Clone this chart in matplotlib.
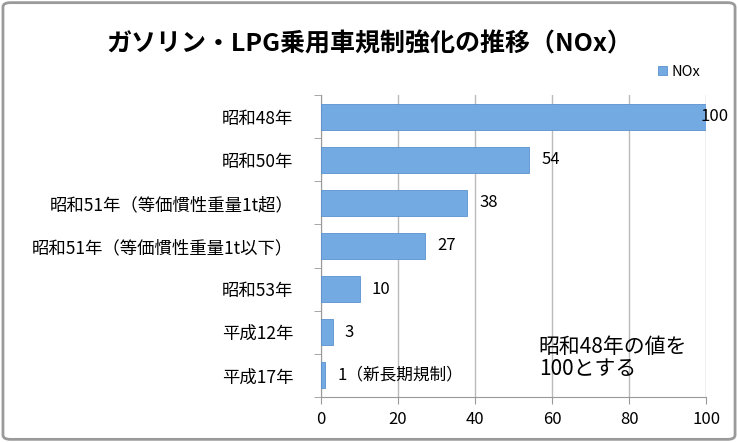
import numpy as np
import matplotlib.pyplot as plt
from matplotlib.patches import FancyBboxPatch

plt.rcParams['font.family'] = ['Noto Sans CJK JP', 'DejaVu Sans']

categories = ['昭和48年', '昭和50年', '昭和51年（等価慣性重量1t超）',
              '昭和51年（等価慣性重量1t以下）', '昭和53年', '平成12年', '平成17年']
values = [100, 54, 38, 27, 10, 3, 1]
value_labels = ['100', '54', '38', '27', '10', '3', '1（新長期規制）']
xticks = [0, 20, 40, 60, 80, 100]

fig = plt.figure(figsize=(7.38, 4.42), dpi=100)
fig.patches.append(FancyBboxPatch((0.004, 0.006), 0.992, 0.988, boxstyle='round,pad=0,rounding_size=0.01',
                                  transform=fig.transFigure, fill=False, edgecolor='#9a9a9a', linewidth=2))
ax = fig.add_axes([0.435, 0.102, 0.522, 0.683])

y = np.arange(len(categories))[::-1]
bars = ax.barh(y, values, height=0.6, color='#74aae2', edgecolor='#5a90cf', linewidth=0.6,
               label='NOx', zorder=3)

for yi, v, lab in zip(y, values, value_labels):
    ax.text(min(v + 3.2, 98.5), yi, lab, va='center', ha='left', fontsize=12, zorder=4)

ax.set_xlim(0, 100)
ax.set_ylim(-0.5, len(categories) - 0.5)
ax.set_xticks(xticks)
ax.set_yticks(y)
ax.set_yticklabels(categories, fontsize=12.5)
ax.tick_params(axis='x', labelsize=12, length=5, color='#999999', pad=5)
ax.tick_params(axis='y', length=0, pad=20)
ax.set_yticks(np.arange(-0.5, len(categories), 1), minor=True)
ax.tick_params(axis='y', which='minor', length=5, color='#999999')
ax.grid(axis='x', color='#bbbbbb', linewidth=1, zorder=0)
for s in ['top', 'right']:
    ax.spines[s].set_visible(False)
for s in ['left', 'bottom']:
    ax.spines[s].set_color('#999999')

fig.text(0.5, 0.9, 'ガソリン・LPG乗用車規制強化の推移（NOx）', ha='center', va='center',
         fontsize=18, fontweight='bold')
fig.legend(handles=[bars], labels=['NOx'], loc='center', bbox_to_anchor=(0.92, 0.838),
           frameon=False, fontsize=10.5, handlelength=0.6, handleheight=0.6, handletextpad=0.3)
ax.text(0.565, 0.13, '昭和48年の値を\n100とする', transform=ax.transAxes, fontsize=15,
        ha='left', va='center', linespacing=1.0)

fig.savefig('out.png', dpi=100)
